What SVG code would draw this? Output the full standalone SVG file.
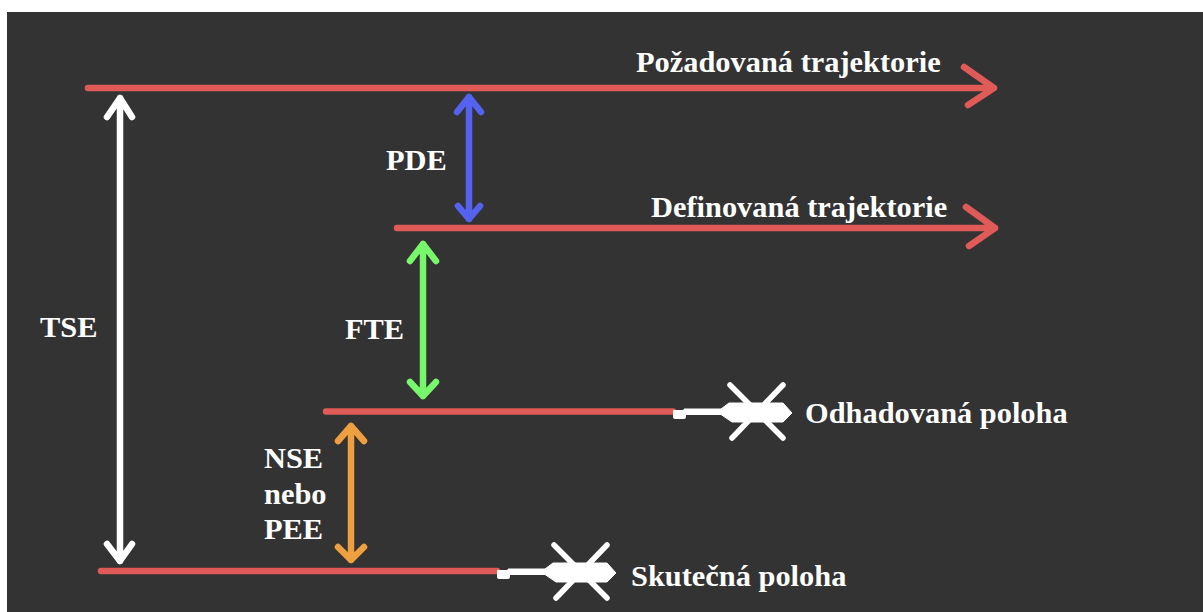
<svg xmlns="http://www.w3.org/2000/svg" width="1203" height="612" viewBox="0 0 1203 612">
<style>
.t{font-family:"Liberation Serif","Times New Roman",serif;font-weight:bold;font-size:30.400px;fill:#fff}
.l{fill:none;stroke-width:6.500;stroke-linecap:round;stroke-linejoin:round}
.red{stroke:#e05a58}.white{stroke:#fff}.blue{stroke:#5562f0}.green{stroke:#77f86a}.orange{stroke:#eea040}
</style>
<defs>
<g id="heli">
<path d="M673 410H684Q686 410 686 412V417Q686 419 684 419H675Q673 419 673 417Z" fill="#fff"/>
<path d="M684 409H721L729 403H783L792 413L783 422H732L721 414.500H684Z" fill="#fff" stroke="#fff" stroke-width="1" stroke-linejoin="round"/>
<path d="M730 385L783 438M783 385L732 438" stroke="#fff" stroke-width="5.500" stroke-linecap="round"/>
</g>
</defs>
<rect width="1203" height="612" fill="#fff"/>
<rect x="7" y="12" width="1196" height="600" fill="#333"/>
<g id="connectors">
<path class="l red" d="M88 88H994M964 67L994 88L968 105"/>
<path class="l red" d="M397 228H995M966 207L995 228L969 246"/>
<path class="l red" d="M326 411.500H673"/>
<path class="l red" d="M101 571H497"/>
<path class="l white" d="M120 98V561M107 117L120 98L132 117M107 544L120 561L132 544"/>
<path class="l blue" d="M469 97V219M457 112L469 97L481 112M458 206L469 219L480 206"/>
<path class="l green" d="M423 244V396M410 261L423 244L436 261M410 382L423 396L436 382"/>
<path class="l orange" d="M351 426V560M338 441L351 426L364 441M338 547L351 560L364 547"/>
</g>
<g id="node-pozadovana"><text class="t" x="636" y="72">Požadovaná trajektorie</text></g>
<g id="node-definovana"><text class="t" x="651" y="217">Definovaná trajektorie</text></g>
<g id="node-odhadovana"><use href="#heli"/><text class="t" x="805" y="423">Odhadovaná poloha</text></g>
<g id="node-skutecna"><use href="#heli" x="-176" y="160"/><text class="t" x="631" y="586">Skutečná poloha</text></g>
<g id="node-pde"><text class="t" x="386" y="170">PDE</text></g>
<g id="node-fte"><text class="t" x="345" y="339">FTE</text></g>
<g id="node-tse"><text class="t" x="40" y="337">TSE</text></g>
<g id="node-nse"><text class="t" x="264" y="468">NSE</text><text class="t" x="264" y="504">nebo</text><text class="t" x="264" y="539">PEE</text></g>
</svg>
